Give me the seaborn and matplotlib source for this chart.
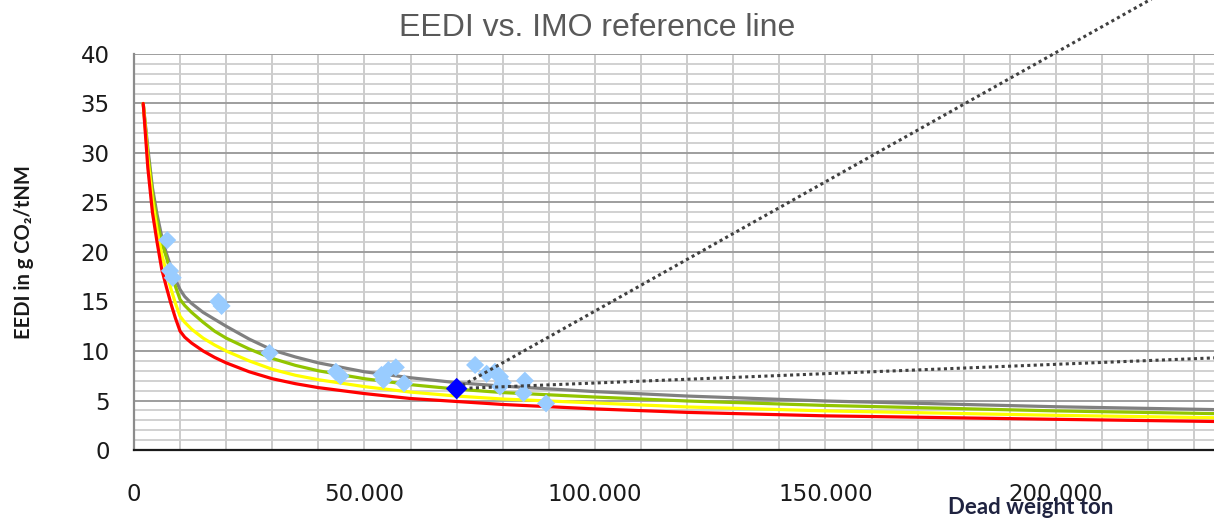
import matplotlib
matplotlib.use("Agg")
import matplotlib.pyplot as plt
import numpy as np
import pandas as pd
import seaborn as sns
from matplotlib.ticker import MultipleLocator, FuncFormatter

# ---------------- data ----------------
dwt_grid = [2000, 3000, 4000, 5000, 6000, 7000, 8000, 9000, 10000, 11000, 12500,
            15000, 17500, 20000, 25000, 30000, 35000, 40000, 50000, 60000, 70000,
            80000, 100000, 120000, 150000, 200000, 250000]
ref_gray = [35, 30.5, 26.5, 23.8, 21.6, 19.9, 18.5, 17.2, 16.2, 15.5, 14.8,
            13.9, 13.2, 12.5, 11.2, 10.1, 9.4, 8.8, 7.9, 7.3, 6.8,
            6.45, 5.9, 5.45, 4.95, 4.37, 3.95]
phase_green = [35, 30, 26, 23.2, 21, 19.5, 17.9, 16.5, 15.2, 14.6, 13.9,
               12.9, 12.0, 11.3, 10.2, 9.25, 8.55, 8.0, 7.2, 6.6, 6.15,
               5.8, 5.35, 4.95, 4.5, 3.95, 3.55]
phase_yellow = [35, 29.5, 25.3, 22.2, 19.8, 18.0, 16.3, 14.8, 13.5, 12.9, 12.2,
                11.3, 10.6, 10.0, 9.0, 8.15, 7.55, 7.1, 6.4, 5.85, 5.45,
                5.15, 4.75, 4.35, 3.95, 3.5, 3.15]
phase_red = [35, 28.5, 24, 21, 18.3, 16.5, 14.8, 13.3, 12.0, 11.4, 10.8,
             10.0, 9.35, 8.8, 7.9, 7.2, 6.7, 6.3, 5.7, 5.2, 4.9,
             4.6, 4.15, 3.8, 3.45, 3.1, 2.78]

ships_dwt = [7200, 7800, 8400, 18300, 19000, 29400, 43800, 44800, 53700, 54100,
             55200, 56800, 58600, 74000, 76500, 78300, 79400, 79400, 80000,
             84800, 84500, 89400]
ships_eedi = [21.2, 18.1, 17.4, 15.0, 14.55, 9.8, 7.9, 7.47, 7.58, 7.07,
              8.08, 8.35, 6.73, 8.59, 7.7, 7.9, 7.4, 6.4, 6.8,
              7.0, 5.73, 4.71]

own_dwt = [70000]
own_eedi = [6.2]

trend_steep_x = [70000, 250000]
trend_steep_y = [6.2, 53.2]
trend_flat_x = [70000, 250000]
trend_flat_y = [6.2, 9.6]

x_ticks = [0, 50000, 100000, 150000, 200000]

# ---------------- figure ----------------
sns.set_theme(style="white")
plt.rcParams["font.family"] = ["DejaVu Sans"]

W, H = 1214, 525
fig = plt.figure(figsize=(W / 100, H / 100), dpi=100)
ax = fig.add_axes([134 / W, 75 / H, 1080 / W, 396 / H])

curves = pd.DataFrame({
    "dwt": dwt_grid * 4,
    "eedi": ref_gray + phase_green + phase_yellow + phase_red,
    "line": (["ref"] * len(dwt_grid) + ["green"] * len(dwt_grid)
             + ["yellow"] * len(dwt_grid) + ["red"] * len(dwt_grid)),
})
palette = {"ref": "#808080", "green": "#92C500", "yellow": "#FFFF00", "red": "#FF0000"}
sns.lineplot(data=curves, x="dwt", y="eedi", hue="line", palette=palette,
             hue_order=["ref", "green", "yellow", "red"], linewidth=2.3,
             legend=False, ax=ax, zorder=3, sort=False)

ships = pd.DataFrame({"dwt": ships_dwt, "eedi": ships_eedi})
sns.scatterplot(data=ships, x="dwt", y="eedi", marker="D", s=85,
                color="#99CCFF", edgecolor="none", ax=ax, zorder=4)

own = pd.DataFrame({"dwt": own_dwt, "eedi": own_eedi})
sns.scatterplot(data=own, x="dwt", y="eedi", marker="D", s=120,
                color="#0000FF", edgecolor="none", ax=ax, zorder=6)

for tx, ty in [(trend_steep_x, trend_steep_y), (trend_flat_x, trend_flat_y)]:
    sns.lineplot(x=tx, y=ty, color="#404040", linewidth=2.2,
                 linestyle=(0, (1, 1.1)), dash_capstyle="butt",
                 ax=ax, zorder=5, clip_on=False)

# axes limits & grid
ax.set_xlim(0, 234300)
ax.set_ylim(0, 40)
ax.yaxis.set_major_locator(MultipleLocator(5))
ax.yaxis.set_minor_locator(MultipleLocator(1))
ax.set_xticks(x_ticks)
ax.xaxis.set_minor_locator(MultipleLocator(10000))
ax.xaxis.set_major_formatter(FuncFormatter(lambda v, p: f"{int(v):,}".replace(",", ".")))

ax.set_axisbelow(True)
ax.grid(which="major", axis="y", color="#9E9E9E", linewidth=1.4)
ax.grid(which="minor", axis="y", color="#CECECE", linewidth=1.3)
ax.grid(which="both", axis="x", color="#C8C8C8", linewidth=1.3)

for s in ["top", "right"]:
    ax.spines[s].set_visible(False)
ax.spines["left"].set_color("#8C8C8C")
ax.spines["left"].set_linewidth(1.6)
ax.spines["bottom"].set_color("#1a1a1a")
ax.spines["bottom"].set_linewidth(1.6)
ax.spines["bottom"].set_zorder(7)

ax.tick_params(axis="y", which="major", direction="out", length=6.5, width=1.5,
               color="#8C8C8C", pad=11, labelsize=16.5, labelcolor="#1a1a1a")
ax.tick_params(axis="y", which="minor", length=0)
ax.tick_params(axis="x", which="major", direction="out", length=6, width=1.5,
               color="#1a1a1a", pad=18, labelsize=16.5, labelcolor="#1a1a1a")
ax.tick_params(axis="x", which="minor", length=0)
ax.set_xlabel("")
ax.set_ylabel("")

fig.text(597 / W, 1 - 28 / H, "EEDI vs. IMO reference line", ha="center", va="center",
         fontsize=23, color="#595959", family=["Liberation Sans", "DejaVu Sans"])
fig.text(24 / W, 1 - 252 / H, "EEDI in g CO\u2082/tNM", rotation=90, ha="center",
         va="center", fontsize=14.5, fontweight="bold", color="#1a1a1a",
         family=["Lato", "DejaVu Sans"])
fig.text(1031 / W, 1 - 507 / H, "Dead weight ton", ha="center", va="center",
         fontsize=16, fontweight="bold", color="#1f2340",
         family=["Lato", "DejaVu Sans"])

fig.savefig("out.png", dpi=100)
